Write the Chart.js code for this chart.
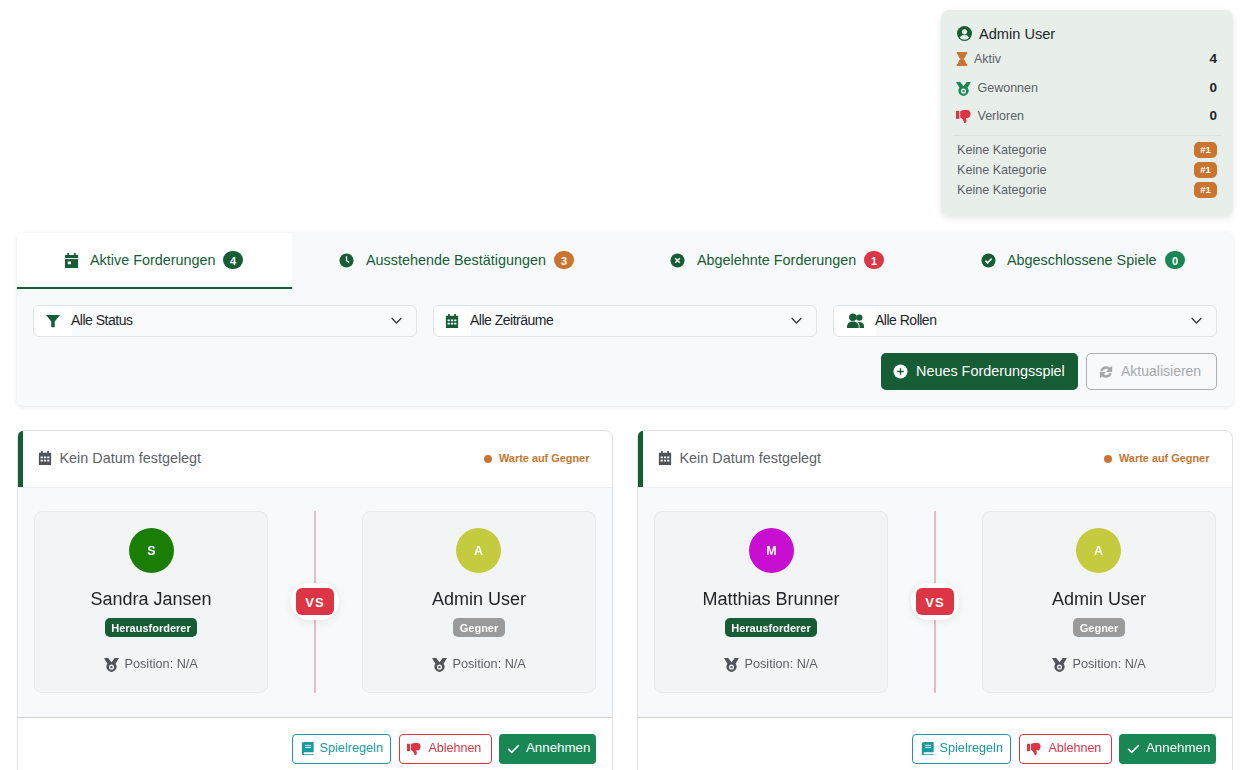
<!DOCTYPE html>
<html lang="de">
<head>
<meta charset="utf-8">
<title>Forderungen</title>
<script src="https://cdn.jsdelivr.net/npm/chart.js@4"></script>
<style>
  html, body { margin: 0; padding: 0; background: #fff; }
  #page { position: relative; width: 1242px; height: 770px; overflow: hidden; font-family: "Liberation Sans", Arial, sans-serif; }
  .box, .txt, svg, canvas { position: absolute; box-sizing: border-box; }
  .txt { white-space: nowrap; line-height: 1; }
</style>
</head>
<body>
<div id="page"></div>
<script>
// Values
const userName = 'Admin User';
const statLabels = ['Aktiv', 'Gewonnen', 'Verloren'];
const statValues = [4, 0, 0];
const categoryLabels = ['Keine Kategorie', 'Keine Kategorie', 'Keine Kategorie'];
const categoryRanks = ['#1', '#1', '#1'];
const tabLabels = ['Aktive Forderungen', 'Ausstehende Bestätigungen', 'Abgelehnte Forderungen', 'Abgeschlossene Spiele'];
const tabCounts = [4, 3, 1, 0];
const filterLabels = ['Alle Status', 'Alle Zeiträume', 'Alle Rollen'];
const challengerNames = ['Sandra Jansen', 'Matthias Brunner'];
const opponentNames = ['Admin User', 'Admin User'];
const avatarShare = [1]; // every avatar is one full slice

// Colours
const green = '#165d35';
const success = '#198754';
const orange = '#c97530';
const red = '#dc3545';
const teal = '#1a9a9f';
const challengerColors = ['#1a7d04', '#c70ed1'];
const opponentColors = ['#c5cb3f', '#c5cb3f'];
const tabCountColors = [green, orange, red, success];

const page = document.getElementById('page');

function box(x, y, w, h, style) {
  const el = document.createElement('div');
  el.className = 'box';
  el.style.cssText = `left:${x}px;top:${y}px;width:${w}px;height:${h}px;${style || ''}`;
  page.appendChild(el);
  return el;
}

// align: 0 left, 0.5 centre, 1 right. x and cy are the anchor point
function txt(x, cy, str, size, color, extra, align) {
  const el = document.createElement('div');
  el.className = 'txt';
  el.textContent = str;
  el.style.cssText = `left:${x}px;top:${cy}px;font-size:${size}px;color:${color};transform:translate(${-(align || 0) * 100}%,-50%);${extra || ''}`;
  page.appendChild(el);
}

// Icons are drawn in a 16x16 box centred on cx, cy
const icons = {
  user: c => `<circle cx="8" cy="8" r="8" fill="${c}"/><circle cx="8" cy="6.2" r="2.8" fill="#e8efea"/><path d="M3 12.6c1-2.3 3-3 5-3s4 .7 5 3c-1.3 1.3-3 2-5 2s-3.7-.7-5-2z" fill="#e8efea"/>`,
  hourglass: c => `<path d="M2 0h12v2.5h-1.5c0 3-1.5 4.3-3 5.5 1.5 1.2 3 2.5 3 5.5H14V16H2v-2.500h1.500c0-3 1.500-4.300 3-5.500-1.500-1.200-3-2.500-3-5.500H2z" fill="${c}"/>`,
  medal: c => `<path d="M0 1h4.500L8 5.500 11.500 1H16l-3.700 6.300A5.300 5.300 0 1 1 3.700 7.300z" fill="${c}"/><circle cx="8" cy="10.800" r="2.700" fill="#fff" opacity=".9"/><circle cx="8" cy="10.800" r="1.200" fill="${c}"/>`,
  thumbDown: c => `<path d="M0 2h3.500v8.500H0z" fill="${c}"/><path d="M4.500 2.500C6 1.500 7.500 1 9.500 1H12c2 0 3.500 1.500 3.500 4 0 2.500-1 4.500-3.500 4.500H10.500c.3 1 .7 2 .7 3.300 0 1.500-.8 2.200-1.700 2.200-.8 0-1-.6-1.200-1.500-.4-1.800-1.800-3.500-3.800-4.500z" fill="${c}"/>`,
  calendar: c => `<path d="M3.500 0h2v2h5V0h2v2H15v14H1V2h2.500z" fill="${c}"/><path d="M1 5.500h14v1H1z" fill="#fff"/><path d="M4 9h3.500v3H4z" fill="#fff"/>`,
  calendarGrid: c => `<path d="M3.500 0h2v2h5V0h2v2H15v14H1V2h2.500z" fill="${c}"/><g fill="#fff"><path d="M3 6.300h2.500v2H3zM6.800 6.300h2.500v2H6.800zM10.500 6.300H13v2h-2.500zM3 10h2.500v2H3zM6.800 10h2.500v2H6.800zM10.500 10H13v2h-2.500z"/></g>`,
  clock: c => `<circle cx="8" cy="8" r="7.500" fill="${c}"/><path d="M7.300 3.500h1.400v4.200l2.500 1.900-.8 1.100-3.100-2.300z" fill="#f8f9fa"/>`,
  xCircle: c => `<circle cx="8" cy="8" r="7.500" fill="${c}"/><path d="M5.500 5.500l5 5m0-5l-5 5" stroke="#f8f9fa" stroke-width="1.600"/>`,
  checkCircle: c => `<circle cx="8" cy="8" r="7.500" fill="${c}"/><path d="M4.700 8.200l2.300 2.300 4.300-4.500" fill="none" stroke="#f8f9fa" stroke-width="1.700"/>`,
  filter: c => `<path d="M0 1h16L10 8.500V15H6V8.500z" fill="${c}"/>`,
  users: c => `<circle cx="5.500" cy="4" r="3.500" fill="${c}"/><circle cx="11.500" cy="4.300" r="3" fill="${c}"/><path d="M0 13c0-3.500 2.500-5 5.500-5s5.500 1.500 5.500 5v1H0z" fill="${c}"/><path d="M11.800 14H16v-1.500c0-2.500-1.800-4-4.500-4-.5 0-1 .1-1.300.2 1.100 1 1.600 2.500 1.600 4.300z" fill="${c}"/>`,
  chevron: c => `<path d="M2 5l6 6 6-6" fill="none" stroke="${c}" stroke-width="1.700"/>`,
  plusCircle: c => `<circle cx="8" cy="8" r="7.500" fill="#fff"/><path d="M8 4.500v7M4.500 8h7" stroke="${c}" stroke-width="1.500"/>`,
  refresh: c => `<path d="M1.500 7a6.700 6.700 0 0 1 11-4L15 .8V8H8l2.500-2.700A3.900 3.900 0 0 0 4.300 7zM14.500 9a6.700 6.700 0 0 1-11 4L1 15.200V8h7l-2.500 2.700A3.900 3.900 0 0 0 11.700 9z" fill="${c}"/>`,
  book: c => `<path d="M3.500 0H15v12H4a1.300 1.300 0 0 0 0 2.500h11V16H3.500A2.500 2.500 0 0 1 1 13.500v-11A2.500 2.500 0 0 1 3.500 0z" fill="${c}"/><path d="M5 4h7M5 6.500h7" stroke="#fff" stroke-width="1"/>`,
  check: c => `<path d="M1.500 8.500l4.300 4.300L14.500 4" fill="none" stroke="${c}" stroke-width="2"/>`
};

function icon(name, cx, cy, size, color) {
  page.insertAdjacentHTML('beforeend',
    `<svg viewBox="0 0 16 16" width="${size}" height="${size}" style="left:${cx - size / 2}px;top:${cy - size / 2}px">${icons[name](color)}</svg>`);
}

// Avatar discs are single slice pies, the rest of the screenshot has no data marks
function avatar(cx, cy, color, letter) {
  const canvas = document.createElement('canvas');
  canvas.width = 45;
  canvas.height = 45;
  canvas.style.cssText = `left:${cx - 22.5}px;top:${cy - 22.5}px;width:45px;height:45px`;
  page.appendChild(canvas);
  new Chart(canvas, {
    type: 'pie',
    data: { labels: [letter], datasets: [{ data: avatarShare, backgroundColor: [color], borderWidth: 0 }] },
    options: {
      responsive: false,
      animation: false,
      plugins: { legend: { display: false }, tooltip: { enabled: false } }
    }
  });
  txt(cx, cy + 0.5, letter, 12.5, '#fff', 'font-weight:700', 0.5);
}

function drawStats() {
  box(941, 10, 292, 206, 'background:#e8efea;border-radius:8px;box-shadow:0 2px 6px rgba(0,0,0,.1)');
  icon('user', 964, 33.5, 15, green);
  txt(979, 34, userName, 14.6, '#212529', '');
  const rowY = [59, 88, 116];
  const labelX = [974, 977.5, 977.5];
  const statIcons = ['hourglass', 'medal', 'thumbDown'];
  const statColors = [orange, success, red];
  const iconX = [962, 963.5, 963.5];
  statLabels.forEach((label, i) => {
    icon(statIcons[i], iconX[i], rowY[i], i === 0 ? 14 : 15, statColors[i]);
    txt(labelX[i], rowY[i], label, 12.5, '#5b6167');
    txt(1217, rowY[i], String(statValues[i]), 13.5, '#212529', 'font-weight:700', 1);
  });
  box(953, 135, 268, 1, 'background:#d8e0e0');
  const catY = [149.5, 169.5, 189.5];
  categoryLabels.forEach((label, i) => {
    txt(957, catY[i], label, 12.6, '#5b6167');
    box(1194, catY[i] - 8, 23, 16, `background:${orange};border-radius:5px`);
    txt(1205.5, catY[i] + 0.5, categoryRanks[i], 9.5, '#fff', 'font-weight:700', 0.5);
  });
}

function drawTabs() {
  box(17, 233, 1216, 173, 'background:#f8f9fa;border-radius:6px;box-shadow:0 1px 5px rgba(0,0,0,.1)');
  box(17, 233, 275, 56, 'background:#fff');
  box(17, 287, 275, 2, `background:${green}`);
  const tabIcons = ['calendar', 'clock', 'xCircle', 'checkCircle'];
  const iconX = [71, 346.5, 677.5, 988];
  const textX = [90, 366, 697, 1007];
  const badgeX = [233, 564, 874, 1175];
  tabLabels.forEach((label, i) => {
    icon(tabIcons[i], iconX[i], 260, 15, green);
    txt(textX[i], 260, label, 14.4, green);
    box(badgeX[i] - 10, 251, 20, 18, `background:${tabCountColors[i]};border-radius:9px`);
    txt(badgeX[i], 260.5, String(tabCounts[i]), 11, '#fff', 'font-weight:700', 0.5);
  });
}

function drawFilters() {
  const filterX = [33, 433, 833];
  const filterIcons = ['filter', 'calendarGrid', 'users'];
  const iconX = [53, 452, 855];
  const textX = [71, 470, 875];
  filterLabels.forEach((label, i) => {
    const stop = textX[i] - filterX[i];
    box(filterX[i], 305, 384, 32, `background:linear-gradient(90deg,#fff ${stop}px,#f9fafb ${stop}px);border:1px solid #dee2e6;border-radius:6px`);
    icon(filterIcons[i], iconX[i], 321, i === 2 ? 17 : 14, green);
    txt(textX[i], 320, label, 14, '#212529', 'letter-spacing:-.5px');
    icon('chevron', filterX[i] + 363, 320.5, 13, '#343a40');
  });
  box(881, 353, 197, 37, `background:${green};border-radius:5px`);
  icon('plusCircle', 900.5, 371.5, 15, green);
  txt(916, 371, 'Neues Forderungsspiel', 14.4, '#fff');
  box(1086, 353, 131, 37, 'border:1px solid #adb0b3;border-radius:5px');
  icon('refresh', 1106, 371.5, 14, '#a5a8ab');
  txt(1121, 371, 'Aktualisieren', 14, '#a5a8ab');
}

function drawPlayer(x, name, color, role, roleColor, roleW, avatarX) {
  const cx = x + 117;
  box(x, 511, 234, 182, 'background:#f3f4f6;border:1px solid #e7eaed;border-radius:8px');
  avatar(avatarX, 550, color, name[0]);
  txt(cx, 599, name, 18, '#212529', '', 0.5);
  box(cx - roleW / 2, 618, roleW, 19, `background:${roleColor};border-radius:5px`);
  txt(cx, 627.5, role, 11, '#fff', 'font-weight:700', 0.5);
  icon('medal', cx - 40, 664, 15, '#4d5358');
  txt(cx - 26.5, 664, 'Position: N/A', 12.7, '#5b6167');
}

function drawCard(x, i) {
  box(x, 430, 596, 360, 'background:#fff;border:1px solid #dee2e6;border-radius:8px');
  box(x + 1, 431, 5, 56, `background:${green};border-top-left-radius:8px`);
  box(x + 1, 487, 594, 230, 'background:#f8f9fa;border-top:1px solid #eceff1');
  box(x + 1, 717, 594, 1, 'background:#cfd4d1');
  icon('calendarGrid', x + 28, 458, 14, '#4d5358');
  txt(x + 42.5, 458, 'Kein Datum festgelegt', 14.4, '#5b6167');
  box(x + 467, 455, 8, 8, `background:${orange};border-radius:50%`);
  txt(x + 482, 458, 'Warte auf Gegner', 10.9, orange, 'font-weight:700');

  drawPlayer(x + 17, challengerNames[i], challengerColors[i], 'Herausforderer', green, 92, x + 134.5);
  drawPlayer(x + 345, opponentNames[i], opponentColors[i], 'Gegner', '#9a9a9a', 52, x + 461.5);

  box(x + 297, 511, 2, 182, 'background:#e8bcc3');
  box(x + 274, 583, 48, 37, 'background:#fff;border-radius:18px;box-shadow:0 2px 10px rgba(0,0,0,.08)');
  box(x + 279, 588, 38, 27, `background:${red};border-radius:6px`);
  txt(x + 298, 601.5, 'VS', 13, '#fff', 'font-weight:700;letter-spacing:1px', 0.5);

  box(x + 275, 734, 99, 30, `border:1px solid ${teal};border-radius:4px`);
  icon('book', x + 290.5, 748.5, 13.5, teal);
  txt(x + 302.5, 748, 'Spielregeln', 12.7, teal);
  box(x + 382, 734, 93, 30, `border:1px solid ${red};border-radius:4px`);
  icon('thumbDown', x + 397, 748.5, 14, red);
  txt(x + 411.5, 748, 'Ablehnen', 12.5, red);
  box(x + 482, 734, 97, 30, `background:${success};border-radius:4px`);
  icon('check', x + 496.5, 748.5, 13, '#fff');
  txt(x + 509, 748, 'Annehmen', 13.3, '#fff');
}

drawStats();
drawTabs();
drawFilters();
drawCard(17, 0);
drawCard(637, 1);
</script>
</body>
</html>
